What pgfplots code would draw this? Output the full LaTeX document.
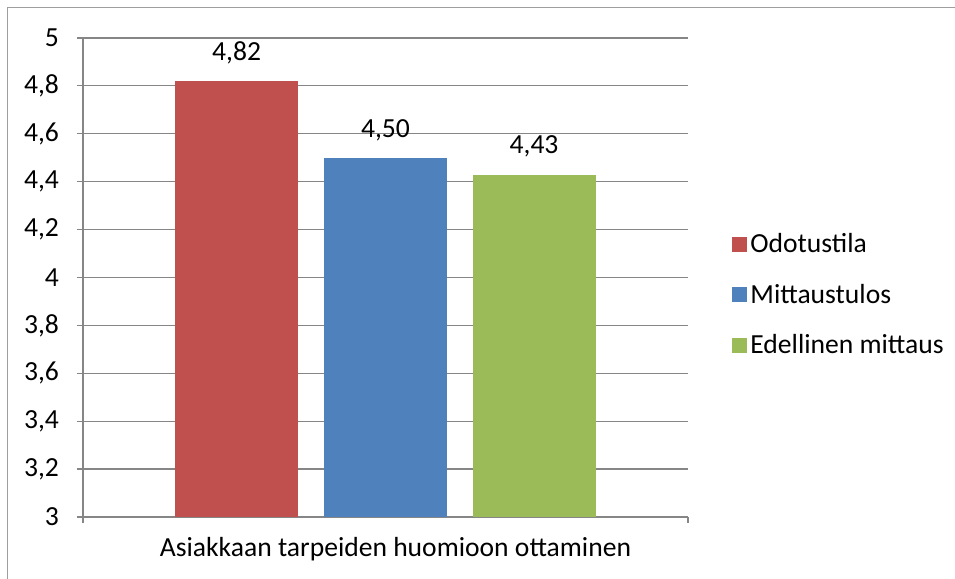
\documentclass[border=0pt]{standalone}
\usepackage{fontspec}
\setmainfont{Carlito}
\usepackage{pgfplots}
\pgfplotsset{compat=1.18}
\definecolor{odoColor}{HTML}{C0504D}
\definecolor{mitColor}{HTML}{4F81BD}
\definecolor{edeColor}{HTML}{9BBB59}
\definecolor{gridGray}{HTML}{868686}
\newcommand{\chartfont}{\fontsize{13.8}{16}\selectfont}

\begin{document}
\begin{tikzpicture}
% 1px = 0.5pt, picture 955x579 px
\useasboundingbox (0,0) rectangle (477.5pt,289.5pt);
\begin{scope}
\clip (0,0) rectangle (477.5pt,289.5pt);
\draw[gridGray!80, line width=0.8pt] (3.8pt,-5pt) rectangle (490pt,285.8pt);
\end{scope}
\begin{axis}[
    at={(41.5pt,31pt)}, anchor=south west,
    scale only axis, width=302.5pt, height=239.5pt,
    xmin=-0.5, xmax=0.5, ymin=3, ymax=5,
    axis x line*=bottom, axis y line*=left,
    axis line style={gridGray, line width=0.6pt, -},
    xtick={-0.5,0.5}, xticklabels={},
    ytick={3,3.2,...,5.01},
    tick align=outside, major tick length=3pt,
    tick style={gridGray, line width=0.6pt},
    ymajorgrids, grid style={gridGray, line width=0.6pt},
    /pgf/number format/assume math mode=true,
    /pgf/number format/use comma,
    ticklabel style={font=\chartfont},
    yticklabel style={xshift=-5.5pt},
    xlabel={Asiakkaan tarpeiden huomioon ottaminen},
    xlabel style={font=\chartfont, yshift=3pt, xshift=5pt},
    ybar, bar shift=0pt, bar width=0.2033,
    nodes near coords,
    every node near coord/.append style={font=\chartfont, yshift=5pt,
        /pgf/number format/fixed, /pgf/number format/fixed zerofill,
        /pgf/number format/precision=2, /pgf/number format/use comma},
    legend style={at={(1,0.4635)}, anchor=west, xshift=22pt, draw=none, fill=none,
        font=\chartfont, row sep=11.3pt, inner sep=0pt,
        nodes={inner sep=1.5pt, xshift=1pt}},
    legend cell align=left,
    legend image code/.code={\fill[#1, draw=none] (0pt,-3.75pt) rectangle (7.5pt,3.75pt);},
]
\addplot[fill=odoColor, draw=none] coordinates {(-0.246,4.82)};
\addlegendentry{Odotustila}
\addplot[fill=mitColor, draw=none] coordinates {(0,4.50)};
\addlegendentry{Mittaustulos}
\addplot[fill=edeColor, draw=none] coordinates {(0.2455,4.43)};
\addlegendentry{Edellinen mittaus}
\end{axis}
\end{tikzpicture}
\end{document}
